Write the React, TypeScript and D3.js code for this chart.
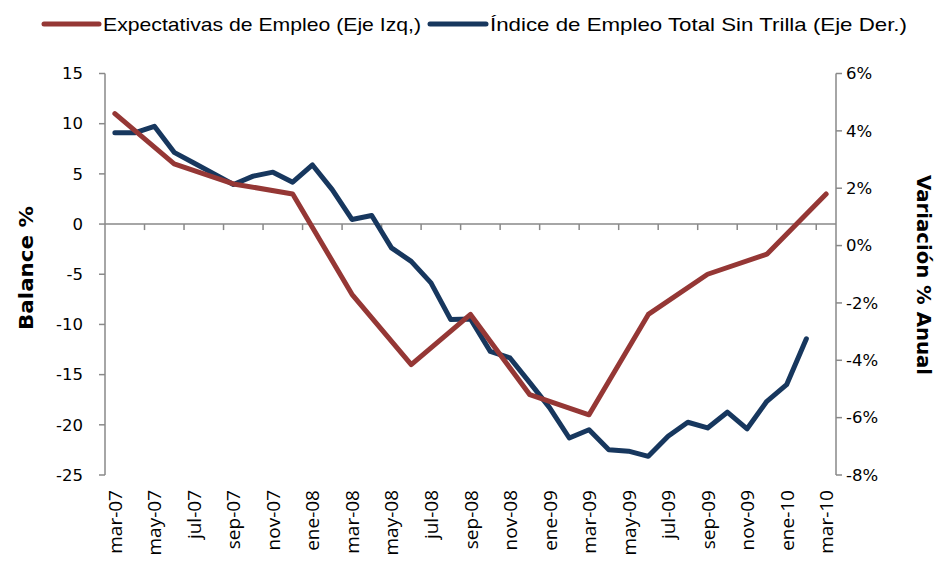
import React, { useEffect, useRef } from 'react'
import * as d3 from 'd3'

// Datos
const months = [
  'mar-07', 'abr-07', 'may-07', 'jun-07', 'jul-07', 'ago-07', 'sep-07', 'oct-07', 'nov-07', 'dic-07',
  'ene-08', 'feb-08', 'mar-08', 'abr-08', 'may-08', 'jun-08', 'jul-08', 'ago-08', 'sep-08', 'oct-08', 'nov-08', 'dic-08',
  'ene-09', 'feb-09', 'mar-09', 'abr-09', 'may-09', 'jun-09', 'jul-09', 'ago-09', 'sep-09', 'oct-09', 'nov-09', 'dic-09',
  'ene-10', 'feb-10', 'mar-10',
]

// Expectativas de Empleo (trimestral, eje izq.)
const expMonths = ['mar-07', 'jun-07', 'sep-07', 'dic-07', 'mar-08', 'jun-08', 'sep-08', 'dic-08', 'mar-09', 'jun-09', 'sep-09', 'dic-09', 'mar-10']
const expValues = [11, 6, 4, 3, -7, -14, -9, -17, -19, -9, -5, -3, 3]

// Índice de Empleo Total Sin Trilla (mensual, eje der.)
const idxMonths = months.slice(0, 36)
const idxValues = [
  3.93, 3.93, 4.16, 3.25, 2.88, 2.51, 2.13, 2.42, 2.56, 2.21,
  2.81, 1.95, 0.91, 1.05, -0.08, -0.55, -1.30, -2.58, -2.56, -3.69, -3.92, -4.78,
  -5.65, -6.71, -6.42, -7.12, -7.17, -7.35, -6.65, -6.16, -6.36, -5.81, -6.39, -5.43,
  -4.85, -3.25,
]

const leftTicks = [15, 10, 5, 0, -5, -10, -15, -20, -25]
const rightTicks = [6, 4, 2, 0, -2, -4, -6, -8]

const RED = '#953735'
const BLUE = '#17375e'
const AXIS = '#898989'

const App = () => {
  const svgRef = useRef(null)

  const x = d3.scaleBand().domain(months).range([105, 836]).padding(0)
  const yL = d3.scaleLinear().domain([-25, 15]).range([475, 73.5])
  const yR = d3.scaleLinear().domain([-8, 6]).range([475, 73.5])
  const cx = (m) => x(m) + x.bandwidth() / 2

  useEffect(() => {
    const svg = d3.select(svgRef.current)

    const lineL = d3.line().x((d) => cx(d[0])).y((d) => yL(d[1]))
    const lineR = d3.line().x((d) => cx(d[0])).y((d) => yR(d[1]))

    svg.select('.serie-idx')
      .datum(idxMonths.map((m, i) => [m, idxValues[i]]))
      .attr('d', lineR)
      .attr('fill', 'none')
      .attr('stroke', BLUE)
      .attr('stroke-width', 5)
      .attr('stroke-linejoin', 'round')
      .attr('stroke-linecap', 'round')

    svg.select('.serie-exp')
      .datum(expMonths.map((m, i) => [m, expValues[i]]))
      .attr('d', lineL)
      .attr('fill', 'none')
      .attr('stroke', RED)
      .attr('stroke-width', 5)
      .attr('stroke-linejoin', 'round')
      .attr('stroke-linecap', 'round')
  }, [])

  const xTicks = months.map((m, i) => i).filter((i) => i % 2 === 0 && i > 0)
  const xLabels = months.filter((m, i) => i % 2 === 0)

  return (
    <div>
      <style>{'body{margin:0}'}</style>
      <svg ref={svgRef} width={941} height={567} style={{ display: 'block', background: '#fff' }}>
        {/* Leyenda */}
        <line x1={44} x2={99} y1={24} y2={24} stroke={RED} strokeWidth={5} strokeLinecap="round" />
        <text x={103} y={31} fontFamily="Liberation Sans" fontSize={19} fill="#000"
          textLength={318} lengthAdjust="spacingAndGlyphs">Expectativas de Empleo (Eje Izq,)</text>
        <line x1={430} x2={486} y1={24} y2={24} stroke={BLUE} strokeWidth={5} strokeLinecap="round" />
        <text x={490} y={31} fontFamily="Liberation Sans" fontSize={19} fill="#000"
          textLength={417} lengthAdjust="spacingAndGlyphs">Índice de Empleo Total Sin Trilla (Eje Der.)</text>

        {/* Eje izquierdo */}
        <line x1={105} x2={105} y1={yL(15)} y2={yL(-25)} stroke={AXIS} strokeWidth={1.5} />
        {leftTicks.map((t) => (
          <g key={'l' + t}>
            <line x1={99} x2={105} y1={yL(t)} y2={yL(t)} stroke={AXIS} strokeWidth={1.5} />
            <text x={83} y={yL(t)} dy="0.35em" textAnchor="end" fontFamily="DejaVu Sans" fontSize={16.5} fill="#000">{t}</text>
          </g>
        ))}

        {/* Eje derecho */}
        <line x1={836} x2={836} y1={yR(6)} y2={yR(-8)} stroke={AXIS} strokeWidth={1.5} />
        {rightTicks.map((t) => (
          <g key={'r' + t}>
            <line x1={836} x2={842} y1={yR(t)} y2={yR(t)} stroke={AXIS} strokeWidth={1.5} />
            <text x={846} y={yR(t)} dy="0.35em" textAnchor="start" fontFamily="DejaVu Sans" fontSize={16.5} fill="#000">{t + '%'}</text>
          </g>
        ))}

        {/* Eje X en cero */}
        <line x1={105} x2={836} y1={yL(0)} y2={yL(0)} stroke={AXIS} strokeWidth={1.5} />
        {xTicks.map((i) => (
          <line key={'t' + i} x1={x(months[i])} x2={x(months[i])} y1={yL(0)} y2={yL(0) + 6} stroke={AXIS} strokeWidth={1.5} />
        ))}
        {xLabels.map((m) => (
          <text key={m} transform={`translate(${cx(m) + 7},490) rotate(-90)`} textAnchor="end"
            fontFamily="Open Sans" fontSize={19} fill="#000">{m}</text>
        ))}

        {/* Títulos de ejes */}
        <text transform="translate(33,268) rotate(-90)" textAnchor="middle" fontFamily="DejaVu Sans"
          fontWeight="bold" fontSize={19} fill="#000" textLength={124} lengthAdjust="spacingAndGlyphs">Balance %</text>
        <text transform="translate(917,275) rotate(90)" textAnchor="middle" fontFamily="DejaVu Sans"
          fontWeight="bold" fontSize={19} fill="#000" textLength={200} lengthAdjust="spacingAndGlyphs">Variación % Anual</text>

        <path className="serie-idx" />
        <path className="serie-exp" />
      </svg>
    </div>
  )
}

export default App
